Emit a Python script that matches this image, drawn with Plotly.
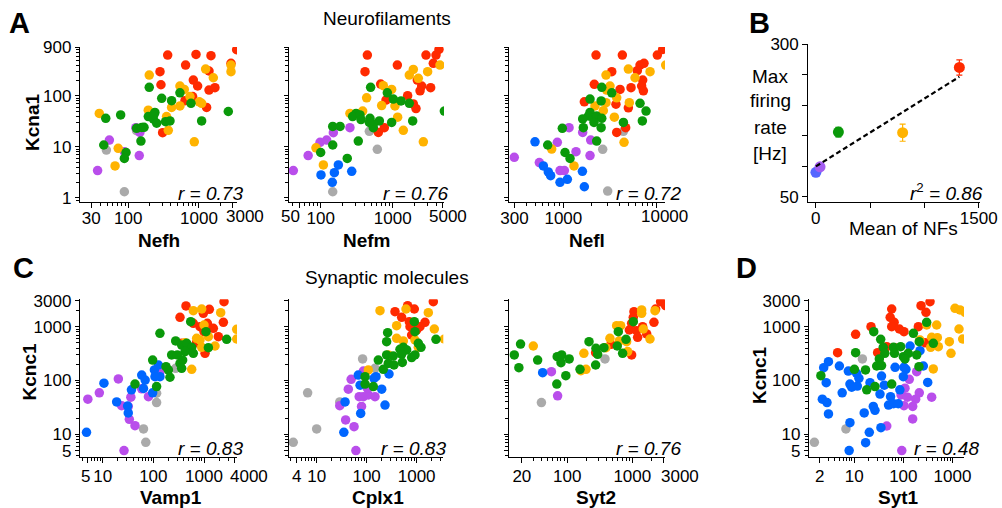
import numpy as np
import plotly.graph_objects as go

W, H = 1002, 508
FONT = "Liberation Sans, Arial, Helvetica, sans-serif"

COLORS = {"red": "#FF2A00", "yellow": "#FFB300", "green": "#0A990A",
          "purple": "#B94EEB", "blue": "#0066FF", "gray": "#AAAAAA"}
ORDER = ["gray", "purple", "blue", "red", "yellow", "green"]

# ---------------- data (expression values) ----------------
# Panel A: Kcna1 vs neurofilaments
nefh_kcna1 = {
    "red": [(361, 627), (647, 399), (908, 646), (1479, 608), (3412, 798), (2838, 431), (281, 296), (290, 164),
            (832, 203), (957, 155), (1387, 305), (1387, 129), (1683, 144), (634, 80), (1282, 59), (306, 18.8), (813, 96)],
    "yellow": [(198, 254), (538, 155), (620, 133), (1242, 333), (1596, 225), (2838, 399), (2838, 296), (38.9, 45),
               (72, 9.3), (65, 4.2), (192, 52), (348, 39), (410, 59), (538, 63), (368, 21), (1011, 76), (746, 96),
               (859, 12.5), (1091, 71)],
    "green": [(198, 146), (297, 89), (410, 80), (538, 114), (771, 71), (1091, 32), (2600, 49), (48, 36), (78, 42),
              (45, 10.8), (93, 7.7), (88, 5.9), (131, 22.9), (155, 23.9), (151, 12.9), (192, 39), (226, 35), (238, 47),
              (252, 29), (337, 31), (389, 32), (231, 43), (167, 24)],
    "purple": [(36.8, 3.4), (54, 13.5), (128, 23.6), (146, 19.1), (88, 8.0), (143, 6.7)],
    "gray": [(49, 8.6), (131, 20.6), (88, 1.31)],
}
nefm_kcna1 = {
    "red": [(445, 627), (413, 296), (1161, 399), (2904, 627), (4000, 627), (4400, 809), (3670, 431), (2200, 203),
            (2530, 155), (2400, 125), (3370, 144), (681, 169), (1614, 100), (1936, 69), (2108, 56), (808, 82),
            (766, 23.6), (632, 19.1)],
    "yellow": [(1936, 328), (1702, 254), (2270, 219), (3060, 296), (4540, 399), (741, 157), (968, 133), (435, 91),
               (703, 64), (1076, 63), (1172, 38), (1406, 21), (2667, 12.5), (383, 50), (255, 45), (86, 9.5), (109, 4.4)],
    "green": [(494, 146), (843, 114), (1021, 86), (1306, 79), (1702, 71), (5220, 50), (1897, 32), (968, 30), (653, 32),
              (484, 36), (538, 28), (538, 23.6), (310, 45), (278, 39), (352, 42), (363, 34), (474, 30), (147, 25),
              (186, 25), (147, 10.8), (100, 7.7), (234, 5.9), (333, 12.9)],
    "purple": [(41.7, 3.4), (67, 6.7), (98, 12.2), (121, 13.5), (150, 18.8), (255, 23.6)],
    "blue": [(101, 2.8), (155, 3.1), (176, 4.4), (270, 3.3), (145, 2.0)],
    "gray": [(474, 20), (612, 8.9), (147, 1.31)],
}
nefl_kcna1 = {
    "red": [(2240, 627), (4285, 627), (10160, 627), (11590, 809), (3300, 296), (2146, 167), (6200, 309), (6630, 399),
            (7310, 431), (7080, 203), (6900, 155), (7200, 125), (5310, 144), (4050, 133), (1679, 76), (3660, 68),
            (4970, 58), (3730, 19.1), (4650, 23.6)],
    "yellow": [(2865, 254), (4970, 333), (5860, 225), (8490, 296), (12480, 399), (3160, 155), (2910, 129), (3730, 91),
               (2180, 63), (2865, 73), (2680, 51), (3520, 38), (5090, 73), (4470, 12.2), (750, 9.0), (1301, 4.2)],
    "green": [(2580, 146), (3300, 114), (1931, 86), (2540, 79), (6630, 71), (7690, 50), (7020, 32), (4400, 30),
              (1931, 47), (1854, 40), (1611, 35), (2096, 36), (2276, 40), (2580, 36), (2130, 30), (2540, 23.6),
              (1637, 23.6), (975, 22.9), (2276, 12.9), (680, 10.8), (1042, 7.7), (1179, 5.9)],
    "purple": [(298, 6.2), (553, 4.9), (862, 12.2), (1151, 23.6), (1611, 19.1), (1367, 8.0), (1931, 6.7), (1963, 13.5),
               (921, 3.4), (1025, 3.4)],
    "blue": [(497, 12.5), (611, 4.2), (690, 3.2), (731, 2.7), (921, 2.0), (1104, 2.3), (1600, 3.3), (1679, 1.64)],
    "gray": [(4400, 20), (2640, 8.9), (2985, 1.35)],
}

# Panel B: max firing rate vs mean of NFs
b_mean_nf = [2, 40, 209, 800, 1322]
b_rate = [90, 99, 156, 155, 262]
b_err = [3, 3, 7.7, 14, 12.6]
b_colors = ["#5566FF", "#A35DF0", "#0A990A", "#FFB300", "#FF2A00"]

# Panel C: Kcnc1 vs synaptic molecules
vamp1_kcnc1 = {
    "red": [(441, 2421), (2483, 2911), (1274, 2100), (971, 1770), (336, 1489), (2410, 1202), (615, 1153), (833, 1000),
            (1164, 1153), (1528, 931), (1919, 652), (1000, 807), (716, 512), (1048, 320), (362, 490)],
    "yellow": [(615, 1983), (900, 2128), (2133, 1820), (4418, 891), (4418, 590), (1000, 1074), (716, 607), (833, 565),
               (1219, 652), (1648, 437), (422, 505), (572, 161), (900, 413)],
    "green": [(546, 1239), (1094, 807), (2800, 582), (1219, 407), (135, 752), (276, 542), (362, 456), (455, 490),
              (572, 413), (422, 344), (230, 298), (298, 298), (379, 240), (336, 208), (362, 168), (615, 320),
              (178, 181), (198, 157), (213, 115), (97, 240), (116, 77), (43.5, 86)],
    "blue": [(10.6, 89), (4.8, 10.9), (18.9, 40), (31.1, 33.6), (32, 25), (37, 67), (59, 126), (69, 102), (64, 71),
             (105, 157), (126, 194), (108, 118), (135, 118), (97, 59)],
    "purple": [(5.1, 45), (8.6, 59), (20.4, 107), (36, 49), (23.7, 34), (32, 33), (33.6, 19), (43.5, 14.5),
               (26.4, 5.0), (59, 70), (80, 50), (135, 146)],
    "gray": [(116, 58), (116, 39), (64, 12.6), (71, 7.1), (276, 168)],
}
cplx1_kcnc1 = {
    "red": [(2154, 2911), (661, 2455), (898, 2128), (369, 1901), (501, 1489), (1468, 1202), (736, 1000), (1000, 867),
            (1166, 1000), (713, 1239), (794, 700)],
    "yellow": [(185, 1983), (612, 2128), (1711, 1820), (2256, 905), (3575, 590), (398, 1044), (398, 607), (541, 542),
               (926, 565), (1080, 413), (271, 298), (108, 157)],
    "green": [(898, 1239), (926, 807), (2436, 582), (263, 774), (251, 526), (1080, 490), (1222, 413), (541, 413),
              (631, 369), (464, 379), (251, 298), (341, 285), (501, 306), (794, 266), (926, 298), (171, 240),
              (271, 208), (352, 194), (517, 217), (215, 161), (93, 118), (93, 86), (136, 77)],
    "blue": [(280, 132), (154, 118), (140, 110), (68, 126), (74, 82), (200, 69), (233, 35), (37, 40), (76, 24.5),
             (35, 10.9)],
    "purple": [(49, 105), (43, 69), (86, 150), (71, 50), (86, 50), (108, 54), (147, 50), (103, 72), (29, 34), (79, 33),
               (38, 18.5), (56, 13.9), (61, 5.0)],
    "gray": [(83, 251), (147, 168), (6.6, 59), (29, 40), (10, 12.6), (3.4, 7.1)],
}
syt2_kcnc1 = {
    "red": [(2727, 2911), (3258, 2455), (2285, 2128), (1061, 1901), (1036, 1489), (2154, 1202), (977, 1153), (900, 867),
            (1166, 843), (1665, 731), (1208, 634), (1442, 1000), (470, 470), (977, 298), (273, 329)],
    "yellow": [(1393, 2042), (1393, 1770), (2233, 1983), (1476, 905), (1871, 590), (574, 1044), (662, 1044), (453, 607),
               (631, 542), (818, 526), (848, 344), (30, 437), (180, 320), (393, 407), (162, 152), (194, 161)],
    "green": [(1036, 1239), (609, 807), (800, 582), (587, 437), (710, 320), (19.1, 476), (15.3, 298), (18, 173),
              (35, 240), (70, 277), (82, 298), (80, 214), (107, 251), (95, 123), (69, 86), (157, 161), (216, 526),
              (276, 396), (293, 306), (366, 407), (273, 194)],
    "blue": [(41.8, 140)],
    "purple": [(57, 146), (71, 52)],
    "gray": [(40, 39), (380, 251)],
}
syt1_kcnc1 = {
    "red": [(349, 2911), (229, 2455), (58, 2128), (289, 1845), (54, 1489), (65, 1202), (58, 1000), (83, 905), (103, 807),
            (202, 1000), (22, 1000), (10.7, 721), (4.6, 329), (30, 329), (276, 505), (66, 407), (46, 425)],
    "yellow": [(1125, 2193), (1422, 2042), (1796, 1845), (477, 1074), (298, 1074), (1356, 905), (1611, 590), (377, 634),
               (492, 625), (863, 526), (515, 425), (360, 413), (931, 320), (407, 164), (218, 565)],
    "green": [(298, 1202), (25, 807), (160, 752), (407, 490), (211, 526), (34.6, 582), (10.7, 329), (39, 413), (63, 413),
              (88, 425), (42, 320), (66, 320), (100, 277), (126, 320), (187, 298), (32.5, 251), (28.7, 186), (36, 189),
              (108, 251), (208, 181), (10.1, 161), (17, 157), (2.1, 123), (58, 86), (26.5, 77), (18, 67)],
    "blue": [(3.0, 224), (2.4, 173), (2.7, 91), (2.25, 45), (2.8, 39), (3.0, 24), (5.0, 186), (5.7, 59), (7.6, 150),
             (11.2, 136), (12.5, 110), (8.2, 86), (8.9, 75), (11.6, 79), (21, 91), (36, 121), (41, 82), (33.5, 56),
             (24.5, 33), (26.5, 28), (16, 25), (50, 35), (55, 50), (63, 37), (79, 37), (85, 67), (100, 118), (113, 161),
             (103, 176), (68, 176), (137, 437), (218, 358), (255, 186), (313, 92), (8.2, 16.5), (20.3, 10.9),
             (17.1, 7.0), (7.9, 5.0), (35, 13.3)],
    "purple": [(132, 105), (187, 146), (108, 72), (90, 54), (121, 49), (211, 59), (377, 49), (178, 45), (103, 34),
               (155, 33), (155, 19.3), (46, 14.3), (93, 5.0)],
    "gray": [(14.7, 251), (6.8, 12.6), (1.55, 7.1)],
}

r_values = ["0.73", "0.76", "0.72", "0.83", "0.83", "0.76", "0.48"]
r2_value = "0.86"

# ---------------- layout helpers ----------------
TICK_SIZE = 17
TEXT_SIZE = 19


def fx(px):
    return px / W


def fy(py):
    return 1 - py / H


def decades(lo, hi, skip=()):
    vals = []
    for d in range(-1, 6):
        for m in range(1, 10):
            v = m * 10 ** d
            if lo <= v <= hi and v not in skip:
                vals.append(v)
    return vals


def log_axis(dom, rng, tv, tt, anchor, labels=True, standoff=0, ticklen=5):
    lo, hi = 10 ** rng[0], 10 ** rng[1]
    minor_vals = decades(lo, hi, skip=tuple(tv))
    return dict(type="log", domain=dom, range=rng, anchor=anchor, automargin=False,
                tickmode="array", tickvals=tv, ticktext=tt, tickangle=0,
                ticks="outside", ticklen=ticklen, tickwidth=1.2, tickcolor="black",
                showline=True, linecolor="black", linewidth=1.3,
                showgrid=False, zeroline=False, showticklabels=labels,
                ticklabelstandoff=standoff,
                tickfont=dict(family=FONT, size=TICK_SIZE, color="black"),
                minor=dict(tickmode="array", tickvals=minor_vals, ticks="outside",
                           ticklen=3, tickwidth=1, tickcolor="black", showgrid=False))


A_Y = [fy(201.7), fy(47)]
C_Y = [fy(456.7), fy(299.3)]
A_YR = [-0.078, 2.955]
C_YR = [0.585, 3.508]

# tick labels drawn by the axes; " " marks a tick whose label is drawn as an annotation nearby
panels = [
    (nefh_kcna1, (80, 237), [1.317, 3.538], [30, 100, 1000, 3000], ["30", "100", "1000", " "], "A"),
    (nefm_kcna1, (289, 444), [1.560, 3.713], [50, 100, 1000, 5000], [" ", "100", "1000", " "], "A"),
    (nefl_kcna1, (509.3, 665), [2.421, 4.089], [300, 1000, 10000], ["300", "1000", " "], "A"),
    (vamp1_kcnc1, (80, 237), [0.553, 3.651], [5, 10, 100, 1000, 4000], [" ", "10", "100", "1000", " "], "C"),
    (cplx1_kcnc1, (289, 443.3), [0.447, 3.533], [4, 10, 100, 1000], ["4", "10", "100", "1000"], "C"),
    (syt2_kcnc1, (509.3, 665), [1.108, 3.503], [20, 100, 1000, 3000], ["20", "100", "1000", " "], "C"),
    (syt1_kcnc1, (809, 964), [0.081, 3.234], [2, 10, 100, 1000], ["2", "10", "100", "1000"], "D"),
]
axis_ids = [1, 2, 3, 5, 6, 7, 8]
ylabel_axes = {1, 5, 8}

fig = go.Figure()
layout = {}

for (data, xpx, xr, xtv, xtt, row), aid in zip(panels, axis_ids):
    xa = "x" if aid == 1 else f"x{aid}"
    ya = "y" if aid == 1 else f"y{aid}"
    for c in ORDER:
        if c in data:
            pts = data[c]
            fig.add_trace(go.Scatter(
                x=[p[0] for p in pts], y=[p[1] for p in pts], mode="markers",
                marker=dict(color=COLORS[c], size=9.5, line=dict(width=0)),
                xaxis=xa, yaxis=ya, showlegend=False, hoverinfo="skip"))
    standoff = -4 if row == "A" else -1
    layout[f"xaxis{aid}"] = log_axis([fx(xpx[0]), fx(xpx[1])], xr, xtv, xtt, ya, True, standoff)
    if row == "A":
        ydom, yr, ytv, ytt = A_Y, A_YR, [1, 10, 100, 900], ["1", "10", "100", "900"]
    else:
        ydom, yr, ytv, ytt = C_Y, C_YR, [5, 10, 100, 1000, 3000], ["5", "10", "100", "1000", "3000"]
    layout[f"yaxis{aid}"] = log_axis(ydom, yr, ytv, ytt, xa, aid in ylabel_axes, 0, ticklen=4)

# Panel B
for xv, yv, ev, col in zip(b_mean_nf, b_rate, b_err, b_colors):
    fig.add_trace(go.Scatter(
        x=[xv], y=[yv], mode="markers",
        marker=dict(color=col, size=11, line=dict(width=0)),
        error_y=dict(type="data", array=[ev], color=col, thickness=1.2, width=3),
        xaxis="x4", yaxis="y4", showlegend=False, hoverinfo="skip"))
slope, icpt = np.polyfit(b_mean_nf, b_rate, 1)
line_x = np.array([min(b_mean_nf), max(b_mean_nf)])
fig.add_trace(go.Scatter(x=line_x, y=slope * line_x + icpt, mode="lines",
                         line=dict(color="black", width=2.2, dash="5px,3px"),
                         xaxis="x4", yaxis="y4", showlegend=False, hoverinfo="skip"))

common_lin = dict(ticks="outside", tickwidth=1.2, tickcolor="black", showline=True, linecolor="black",
                  linewidth=1.3, showgrid=False, zeroline=False, automargin=False, tickangle=0,
                  tickfont=dict(family=FONT, size=TICK_SIZE, color="black"))
layout["xaxis4"] = dict(domain=[fx(808.3), fx(980)], range=[-68, 1512], anchor="y4",
                        tickmode="array", tickvals=[0, 500, 1000, 1500], ticktext=["0", " ", " ", "1500"],
                        ticklen=5, ticklabelstandoff=-4, **common_lin)
layout["yaxis4"] = dict(domain=[fy(201.7), fy(44.3)], range=[41.8, 300], anchor="x4",
                        tickmode="array", tickvals=[50, 100, 150, 200, 250, 300],
                        ticktext=["50", " ", " ", " ", " ", "300"], ticklen=5, **common_lin)

# ---------------- annotations ----------------
ann = []


def text(x, y, s, size=TEXT_SIZE, bold=False, italic=False, xanchor="center", angle=0):
    if bold:
        s = f"<b>{s}</b>"
    if italic:
        s = f"<i>{s}</i>"
    ann.append(dict(x=fx(x), y=fy(y), xref="paper", yref="paper", text=s, showarrow=False,
                    xanchor=xanchor, yanchor="middle", textangle=angle,
                    font=dict(family=FONT, size=size, color="black")))


# panel letters
text(19, 23, "A", size=29, bold=True)
text(759, 23, "B", size=29, bold=True)
text(23.5, 267.5, "C", size=29, bold=True)
text(746, 267.5, "D", size=29, bold=True)
# section titles
text(387, 18, "Neurofilaments")
text(387, 277, "Synaptic molecules")
# axis titles
text(32, 122, "Kcna1", bold=True, angle=-90)
text(29, 372.5, "Kcnc1", bold=True, angle=-90)
text(759, 376, "Kcnc1", bold=True, angle=-90)
for xx, s in [(158.5, "Nefh"), (366.5, "Nefm"), (587, "Nefl")]:
    text(xx, 240, s, bold=True)
for xx, s in [(171, "Vamp1"), (378, "Cplx1"), (596, "Syt2"), (898, "Syt1")]:
    text(xx, 497.5, s, bold=True)
text(903, 228, "Mean of NFs")
for yy, s in [(77, "Max"), (101, "firing"), (127, "rate"), (153, "[Hz]")]:
    text(770, yy, s)
# tick labels that sit off their tick in the original figure
for xx, s in [(245, "3000"), (290, "50"), (448, "5000"), (664, "10000")]:
    text(xx, 216, s, size=TICK_SIZE)
for xx, s in [(85, "5"), (249, "4000"), (680, "3000")]:
    text(xx, 476, s, size=TICK_SIZE)
# correlation values
for (xx, yy), r in zip([(245, 193), (450, 193), (683, 193), (245, 448), (448, 448), (683, 448), (981, 448)], r_values):
    text(xx, yy, f"r = {r}", italic=True, xanchor="right")
ann.append(dict(x=fx(985), y=fy(192), xref="paper", yref="paper",
                text=f"<i>r</i><sup>2</sup><i> = {r2_value}</i>", showarrow=False,
                xanchor="right", yanchor="middle", font=dict(family=FONT, size=TEXT_SIZE, color="black")))

fig.update_layout(template="none", width=W, height=H, margin=dict(l=0, r=0, t=0, b=0, pad=0),
                  paper_bgcolor="white", plot_bgcolor="white",
                  font=dict(family=FONT, color="black"), annotations=ann, **layout)

fig.write_html("out.html", config={"displayModeBar": False},
               post_script="document.documentElement.style.margin='0';"
                           "document.body.style.margin='0';document.body.style.padding='0';")
